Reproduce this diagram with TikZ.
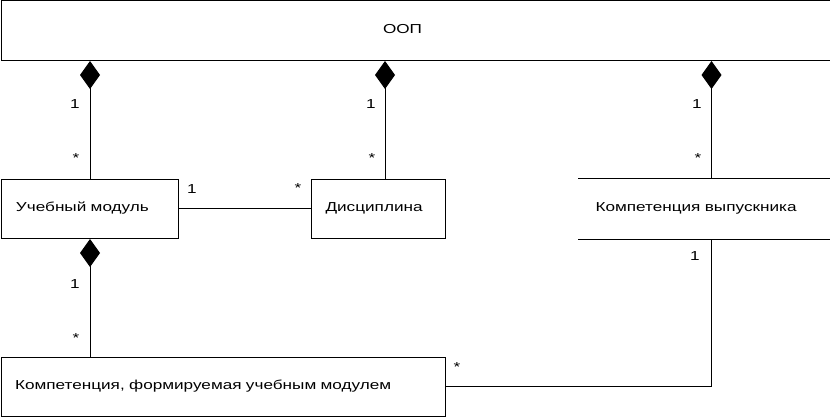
\documentclass[tikz,border=0pt]{standalone}
\usepackage{fontspec}
\setmainfont[FakeStretch=1.32]{Liberation Sans}
\usetikzlibrary{arrows.meta}
\begin{document}
\begin{tikzpicture}[x=1pt,y=-1pt,line width=1pt,
  font=\fontsize{13pt}{15pt}\selectfont,
  box/.style={draw,anchor=north west,minimum height=59.5pt,inner ysep=0pt,
    text height=8pt,text depth=2.5pt,align=left},
  lbl/.style={anchor=base,inner sep=0pt},
  comp/.style={{Diamond[length=28pt,width=20pt]}-}]
\useasboundingbox (0,0) rectangle (830,417);
% boxes
\node[box,minimum width=829pt,inner xsep=382pt,text width=65pt] (oop) at (0.5,0.5) {ООП};
\node[box,minimum width=177.5pt,inner xsep=15pt,text width=147.5pt] (um) at (0.5,178.5) {Учебный модуль};
\node[box,minimum width=134pt,inner xsep=14pt,text width=106pt] (dis) at (311,178.5) {Дисциплина};
\node[box,draw=none,minimum width=251.5pt,inner xsep=17pt,text width=217.5pt] (kv) at (578,178.5) {Компетенция выпускника};
\draw (kv.north west) -- (kv.north east) -- (kv.south east) -- (kv.south west);
\node[box,minimum width=444pt,minimum height=59pt,inner xsep=14pt,text width=416pt] (bk) at (0.5,356.5) {Компетенция, формируемая учебным модулем};
% x positions of connectors
\coordinate (c1) at (90,0);
\coordinate (c2) at (385,0);
\coordinate (c3) at (711.5,0);
% connectors
\draw[comp] (oop.south -| c1) -- (um.north -| c1);
\draw[comp] (oop.south -| c2) -- (dis.north -| c2);
\draw[comp] (oop.south -| c3) -- (kv.north -| c3);
\draw[comp] (um.south -| c1) -- (bk.north -| c1);
\draw (um.east) -- (dis.west);
\draw (kv.south -| c3) |- (bk.east);
% multiplicities
\node[lbl] (m1) at (75,108.7) {1};
\node[lbl] (m2) at (76,162.6) {*};
\node[lbl] (m3) at (371,108.7) {1};
\node[lbl] (m4) at (372,162.6) {*};
\node[lbl] (m5) at (697,108.7) {1};
\node[lbl] (m6) at (698,162.6) {*};
\node[lbl] (m7) at (75,288.7) {1};
\node[lbl] (m8) at (76,342.6) {*};
\node[lbl] (m9) at (192,193.3) {1};
\node[lbl] (m10) at (298,192.6) {*};
\node[lbl] (m11) at (695,260) {1};
\node[lbl] (m12) at (457,371) {*};
\end{tikzpicture}
\end{document}
